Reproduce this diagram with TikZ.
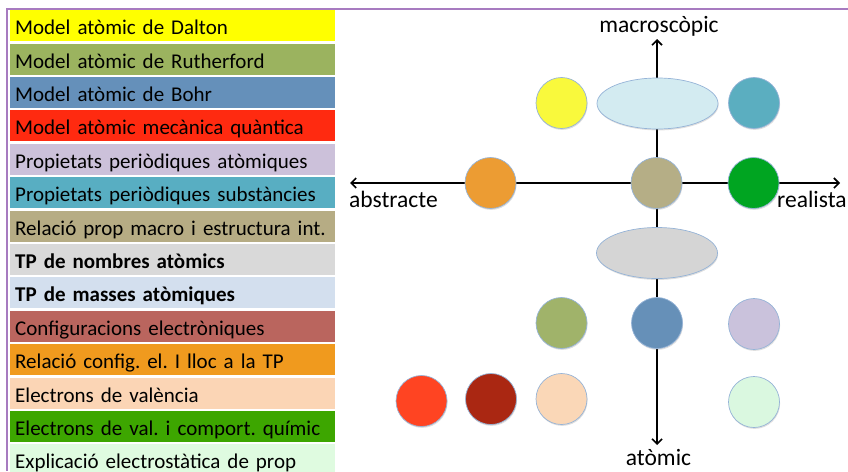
\documentclass[tikz,border=0pt]{standalone}
\usepackage{fontspec}
\setmainfont{Carlito}
\usetikzlibrary{positioning}
\usetikzlibrary{shapes.geometric}
\usetikzlibrary{shadows}
\usetikzlibrary{arrows.meta}

\definecolor{framecol}{HTML}{A77BC0}
\definecolor{rimcol}{HTML}{95B3D7}
\definecolor{cdalton}{HTML}{FFFF00}
\definecolor{crutherford}{HTML}{9BB35F}
\definecolor{cbohr}{HTML}{6590BA}
\definecolor{cquantum}{HTML}{FF2A10}
\definecolor{cpropat}{HTML}{CCC1DA}
\definecolor{cpropsub}{HTML}{58AEC2}
\definecolor{crelprop}{HTML}{B6AC84}
\definecolor{cnombres}{HTML}{D9D9D9}
\definecolor{cmasses}{HTML}{D3DFEE}
\definecolor{cconfig}{HTML}{BA655E}
\definecolor{crelconf}{HTML}{F09A1E}
\definecolor{cvalencia}{HTML}{FBD5B5}
\definecolor{ccomport}{HTML}{3DA600}
\definecolor{celectro}{HTML}{DFFBE0}
% circle fills
\definecolor{kdalton}{HTML}{F9F93C}
\definecolor{kpropsub}{HTML}{5BAEC0}
\definecolor{krelconf}{HTML}{EC9C33}
\definecolor{krelprop}{HTML}{B5AE86}
\definecolor{kcomport}{HTML}{00A521}
\definecolor{kmasses}{HTML}{D3EBF1}
\definecolor{knombres}{HTML}{D5D5D5}
\definecolor{krutherford}{HTML}{A0B36A}
\definecolor{kbohr}{HTML}{6690B8}
\definecolor{kpropat}{HTML}{CAC2DC}
\definecolor{kquantum}{HTML}{FF4422}
\definecolor{kconfig}{HTML}{AA2712}
\definecolor{kvalencia}{HTML}{FAD7B7}
\definecolor{kelectro}{HTML}{DAF8E0}

\begin{document}
\frenchspacing
\begin{tikzpicture}
[
x=1pt, y=-1pt,
>={Straight Barb[length=5pt,width=10pt]},
legend/.style={rectangle, minimum height=31pt, inner xsep=5pt, inner ysep=0pt, text width=315pt, align=left, text height=19.5pt, text depth=1.5pt, font=\fontsize{21}{24}\selectfont, execute at begin node=\hbox\bgroup, execute at end node=\egroup},
blob/.style={circle, draw=rimcol, line width=0.7pt, minimum size=51pt, inner sep=0pt, drop shadow={shadow xshift=0.6pt, shadow yshift=-1.4pt, opacity=.25}},
oval/.style={ellipse, draw=rimcol, line width=0.7pt, minimum width=121pt, minimum height=51pt, inner sep=0pt, drop shadow={shadow xshift=0.6pt, shadow yshift=-1.4pt, opacity=.25}},
axis/.style={line width=1.6pt, <->},
axislabel/.style={inner sep=0pt, font=\fontsize{23.5}{26}\selectfont},
]
\useasboundingbox (0,0) rectangle (848,471);
\draw [framecol, line width=1.5pt] (848,9) -- (7,9) -- (7,471);

% legend
\node (leg1)  [legend, fill=cdalton, anchor=north west] at (10,10) {Model atòmic de Dalton};
\node (leg2)  [legend, fill=crutherford, below = 2pt of leg1]  {Model atòmic de Rutherford};
\node (leg3)  [legend, fill=cbohr,       below = 2pt of leg2]  {Model atòmic de Bohr};
\node (leg4)  [legend, fill=cquantum,    below = 2pt of leg3]  {Model atòmic mecànica quàntica};
\node (leg5)  [legend, fill=cpropat,     below = 2pt of leg4]  {Propietats periòdiques atòmiques};
\node (leg6)  [legend, fill=cpropsub,    below = 2pt of leg5]  {Propietats periòdiques substàncies};
\node (leg7)  [legend, fill=crelprop,    below = 2pt of leg6]  {Relació prop macro i estructura int.};
\node (leg8)  [legend, fill=cnombres,    below = 2pt of leg7]  {\textbf{TP de nombres atòmics}};
\node (leg9)  [legend, fill=cmasses,     below = 2pt of leg8]  {\textbf{TP de masses atòmiques}};
\node (leg10) [legend, fill=cconfig,     below = 2pt of leg9]  {Configuracions electròniques};
\node (leg11) [legend, fill=crelconf,    below = 2pt of leg10] {Relació config. el. I lloc a la TP};
\node (leg12) [legend, fill=cvalencia,   below = 2pt of leg11] {Electrons de valència};
\node (leg13) [legend, fill=ccomport,    below = 2pt of leg12] {Electrons de val. i comport. químic};
\node (leg14) [legend, fill=celectro,    below = 2pt of leg13] {Explicació electrostàtica de prop};

% axes
\coordinate (abs) at (350,183);
\coordinate (rea) at (840,183);
\coordinate (mac) at (657,39);
\coordinate (ato) at (657,445);
\draw [axis] (abs) -- (rea);
\draw [axis] (ato) -- (mac);
\node (macl) [axislabel, anchor=base] at (659,32.5) {macroscòpic};
\node (absl) [axislabel, anchor=base west] at (349,207) {abstracte};
\node (real) [axislabel, anchor=base west] at (777,207.5) {realista};
\node (atol) [axislabel, anchor=base] at (658.5,465) {atòmic};

% circles
\node (dalton)     [blob, fill=kdalton]     at (561.5,103) {};
\node (masses)     [oval, fill=kmasses]     at (657.5,103.5) {};
\node (propsub)    [blob, fill=kpropsub]    at (754,103) {};
\node (relconf)    [blob, fill=krelconf]    at (490.5,183) {};
\node (relprop)    [blob, fill=krelprop]    at (656.5,183) {};
\node (comport)    [blob, fill=kcomport]    at (753.5,183) {};
\node (nombres)    [oval, fill=knombres]    at (657,253) {};
\node (rutherford) [blob, fill=krutherford] at (561.5,323) {};
\node (bohr)       [blob, fill=kbohr]       at (657,323) {};
\node (propat)     [blob, fill=kpropat]     at (754,324) {};
\node (quantum)    [blob, fill=kquantum]    at (421.5,401) {};
\node (config)     [blob, fill=kconfig]     at (491,399) {};
\node (valencia)   [blob, fill=kvalencia]   at (561.5,399) {};
\node (electro)    [blob, fill=kelectro]    at (754,402) {};
\end{tikzpicture}
\end{document}
